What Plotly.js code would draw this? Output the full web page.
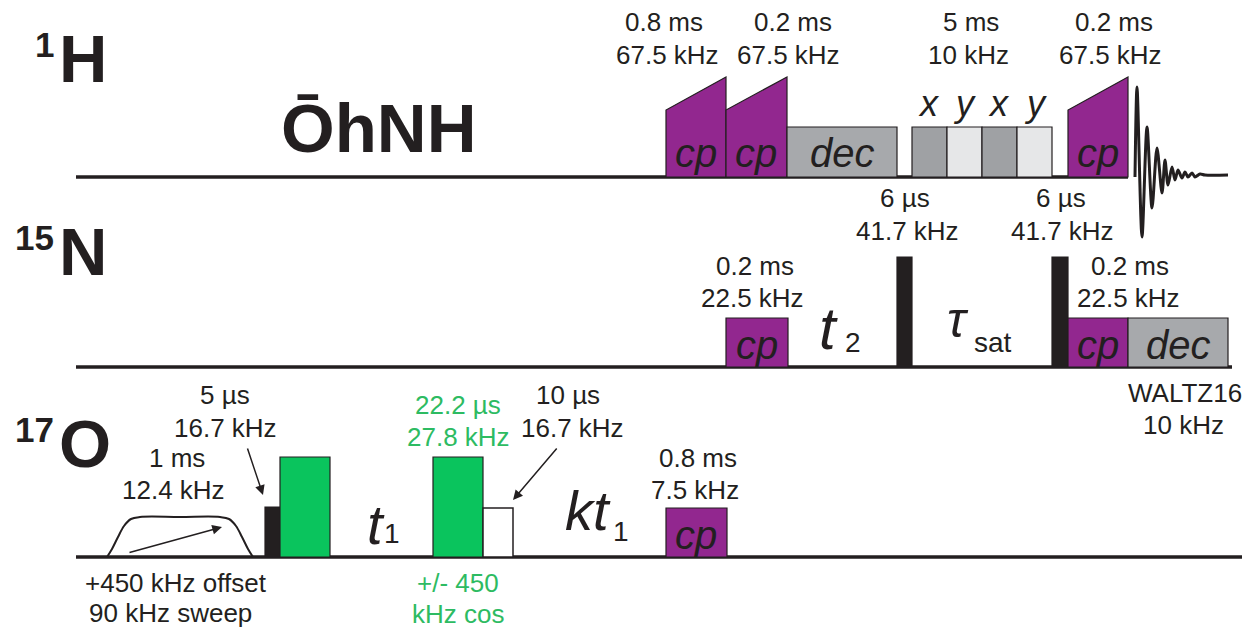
<!DOCTYPE html>
<html><head><meta charset="utf-8">
<script src="https://cdn.plot.ly/plotly-3.0.1.min.js"></script>
<style>html,body{margin:0;padding:0;background:#fff;}#c{width:1242px;height:629px;}</style>
</head><body><div id="c"></div>
<script>
// ---- channel baselines (diagram units) ----
const channelNames = ['1H', '15N', '17O'];
const channelBase = [177, 367, 557];
const channelStart = [76, 76, 76];
const channelEnd = [1128, 1232, 1242];

// ---- ramped CP pulses on 1H ----
const rampStart = [666, 726, 1068];
const rampEnd = [726, 787, 1128];
const rampLow = [110, 110, 110];
const rampHigh = [77, 77, 77];

// ---- rectangular pulses ----
const rectKind = ['dec', 'x', 'y', 'x', 'y', 'cp', 'hard', 'hard', 'cp', 'dec', 'hard', 'green', 'green', 'white', 'cp'];
const rectChan = [0, 0, 0, 0, 0, 1, 1, 1, 1, 1, 2, 2, 2, 2, 2];
const rectStart = [787, 912, 947, 982, 1017, 726, 897, 1052, 1068, 1128, 265, 280, 433, 483, 666];
const rectEnd = [897, 947, 982, 1017, 1052, 788, 912, 1068, 1128, 1228, 280, 330, 483, 513, 727];
const rectTop = [127, 127, 127, 127, 127, 318, 257, 257, 318, 318, 507, 457, 457, 508, 508];

// ---- adiabatic pulse outline on 17O ----
const adiabX = [107, 112, 118, 124, 131, 140, 180, 220, 229, 236, 242, 248, 253];
const adiabY = [557, 549, 537, 526, 519, 517, 517, 517, 519, 526, 537, 549, 557];

// ---- FID extrema ----
const fidX = [1135, 1137, 1142, 1147, 1152, 1157, 1162, 1165, 1168, 1172, 1175, 1178, 1182, 1185, 1188, 1192, 1195, 1200, 1205, 1228];
const fidY = [177, 87, 237, 127, 208, 148, 193, 160, 185, 167, 180, 170, 178, 172, 177, 173, 177, 174, 175, 175];

// ---- parameter labels ----
const labelText = ['0.8 ms', '67.5 kHz', '0.2 ms', '67.5 kHz', '5 ms', '10 kHz', '0.2 ms', '67.5 kHz',
  '6 µs', '41.7 kHz', '6 µs', '41.7 kHz', '0.2 ms', '22.5 kHz', '0.2 ms', '22.5 kHz', 'WALTZ16', '10 kHz',
  '5 µs', '16.7 kHz', '1 ms', '12.4 kHz', '+450 kHz offset', '90 kHz sweep',
  '22.2 µs', '27.8 kHz', '10 µs', '16.7 kHz', '+/- 450', 'kHz cos', '0.8 ms', '7.5 kHz'];
const labelX = [664, 667, 793, 788, 971, 968, 1114, 1110,
  905, 907, 1061, 1062, 755, 752, 1130, 1128, 1185, 1183,
  225, 225, 177, 173, 176, 170,
  458, 458, 568, 572, 458, 458, 698, 695];
const labelY = [22, 55, 22, 55, 22, 55, 22, 55,
  198, 231, 198, 231, 266, 298, 266, 298, 393, 425,
  395, 428, 458, 490, 583, 613,
  405, 437, 395, 428, 583, 614, 458, 490];
const labelGreen = [24, 25, 28, 29];

// ---- pulse phase labels ----
const phaseText = ['x', 'y', 'x', 'y'];
const phaseX = [929, 964, 999, 1035];

const LINE = '#231f20';
const fillFor = {dec: '#a7a9ac', x: '#9fa1a4', y: '#e6e7e8', cp: '#92278f', hard: '#231f20', green: '#0ac45d', white: '#ffffff'};
const FONT = 'Liberation Sans, Arial, sans-serif';

const traces = [];
channelBase.forEach((b, i) => {
  traces.push({x: [channelStart[i], channelEnd[i]], y: [b, b], mode: 'lines', line: {color: LINE, width: 3.5}, hoverinfo: 'skip'});
});
rampStart.forEach((s, i) => {
  const e = rampEnd[i], b = channelBase[0];
  traces.push({x: [s, s, e, e, s], y: [b, rampLow[i], rampHigh[i], b, b], mode: 'lines', fill: 'toself', fillcolor: fillFor.cp, line: {color: LINE, width: 1.2}, hoverinfo: 'skip'});
});
rectStart.forEach((s, i) => {
  const e = rectEnd[i], b = channelBase[rectChan[i]], t = rectTop[i];
  traces.push({x: [s, s, e, e, s], y: [b, t, t, b, b], mode: 'lines', fill: 'toself', fillcolor: fillFor[rectKind[i]], line: {color: LINE, width: rectKind[i] === 'white' ? 1.5 : 1.2}, hoverinfo: 'skip'});
});
traces.push({x: adiabX, y: adiabY, mode: 'lines', line: {color: LINE, width: 2, shape: 'spline', smoothing: 1}, hoverinfo: 'skip'});
traces.push({x: fidX, y: fidY, mode: 'lines', line: {color: LINE, width: 3, shape: 'spline', smoothing: 0.8}, hoverinfo: 'skip'});

const ann = [];
function txt(x, y, t, size, opts) {
  ann.push(Object.assign({x: x, y: y, xref: 'x', yref: 'y', text: t, showarrow: false, xanchor: 'center', yanchor: 'middle',
    font: {family: FONT, size: size, color: LINE}}, opts || {}));
}
labelText.forEach((t, i) => {
  txt(labelX[i], labelY[i], t, 26, {font: {family: FONT, size: 26, color: labelGreen.includes(i) ? '#2dbb62' : LINE}});
});
const nucMass = ['1', '15', '17'];
const nucSym = ['H', 'N', 'O'];
const nucY = [58, 251, 443];
nucSym.forEach((s, i) => {
  txt(57, nucY[i], '<b>' + s + '</b>', 67, {xanchor: 'left'});
  txt(56, nucY[i] - 14, '<b>' + nucMass[i] + '</b>', 35, {xanchor: 'right'});
});
txt(378, 128, '<b>ŌhNH</b>', 69);
const cpLabX = [696, 756, 1098, 757, 1098, 696];
const cpLabY = [153, 153, 153, 345, 345, 535];
cpLabX.forEach((x, i) => txt(x, cpLabY[i], '<i>cp</i>', 40));
txt(842, 153, '<i>dec</i>', 40);
txt(1178, 345, '<i>dec</i>', 40);
phaseText.forEach((t, i) => txt(phaseX[i], 103, '<i>' + t + '</i>', 36));
txt(828, 328, '<i>t</i>', 60);
txt(853, 342, '2', 28);
txt(958, 320, '<i>τ</i>', 50);
txt(993, 342, 'sat', 28);
txt(376, 524, '<i>t</i>', 56);
txt(392, 533, '1', 28);
txt(588, 510, '<i>kt</i>', 56);
txt(621, 531, '1', 28);
const arrowFrom = [[128, 553], [247, 447], [558, 447]];
const arrowTo = [[222, 527], [263, 495], [513, 500]];
arrowFrom.forEach((f, i) => {
  ann.push({x: arrowTo[i][0], y: arrowTo[i][1], ax: f[0], ay: f[1], xref: 'x', yref: 'y', axref: 'x', ayref: 'y', text: '', showarrow: true,
    arrowhead: 2, arrowsize: 1.3, arrowwidth: 1.5, arrowcolor: LINE});
});

const layout = {
  width: 1242, height: 629, margin: {l: 0, r: 0, t: 0, b: 0}, showlegend: false,
  paper_bgcolor: '#fff', plot_bgcolor: '#fff',
  xaxis: {range: [0, 1242], visible: false, fixedrange: true},
  yaxis: {range: [629, 0], visible: false, fixedrange: true},
  annotations: ann
};
Plotly.newPlot('c', traces, layout, {staticPlot: true});
</script></body></html>
